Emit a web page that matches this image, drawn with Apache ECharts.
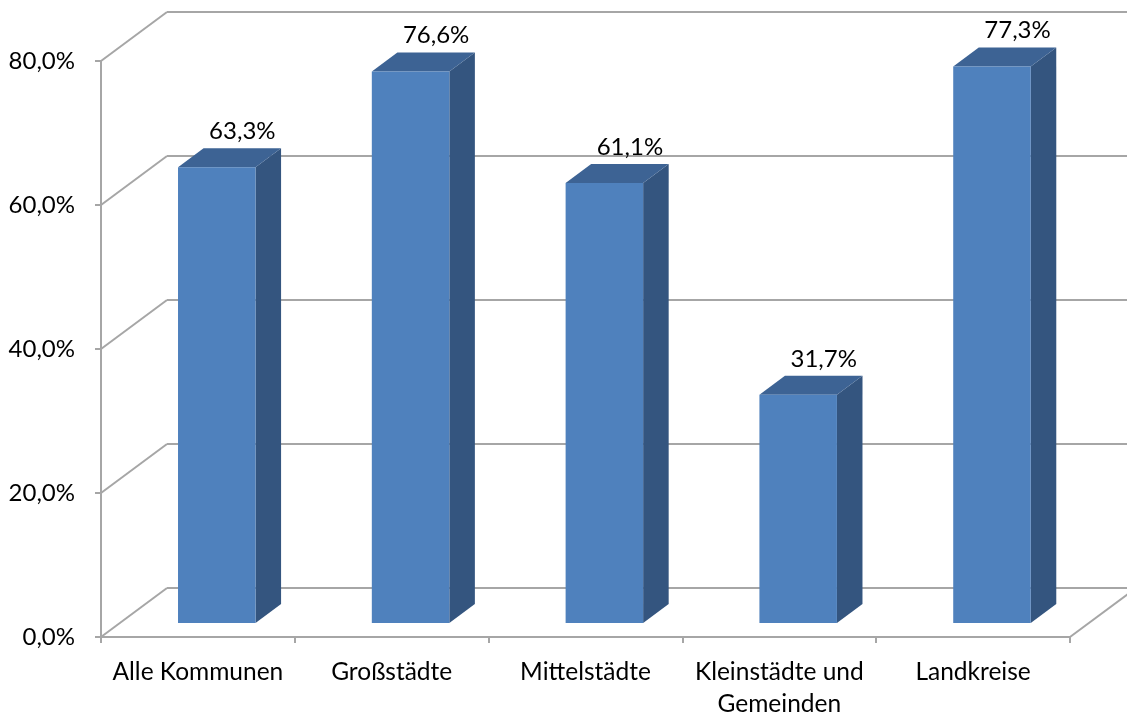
<!DOCTYPE html>
<html>
<head>
<meta charset="utf-8">
<script src="https://cdn.jsdelivr.net/npm/echarts@6/dist/echarts.min.js"></script>
<style>
  html, body { margin: 0; padding: 0; background: #fff; }
  #container { width: 1127px; height: 716px; }
</style>
</head>
<body>
<div id="container"></div>
<script>
// Daten
var categories = ['Alle Kommunen', 'Großstädte', 'Mittelstädte', 'Kleinstädte und\nGemeinden', 'Landkreise'];
var values = [63.3, 76.6, 61.1, 31.7, 77.3];
var yTicks = [0, 20, 40, 60, 80];

// 3D-Tiefe (Pixel) und Lage der Säulen in der Tiefe
var DX = 66, DY = 49;
var F1 = 0.286, F2 = 0.673;
var BAR_W = 0.4;

var FONT = 'Lato, "Open Sans", sans-serif';
var gridColor = '#a6a6a6';

function pct(v) {
    return v.toFixed(1).replace('.', ',') + '%';
}

var dom = document.getElementById('container');
var myChart = echarts.init(dom);

//Rahmen: Seitenwand, Rückwand, Boden
function renderFrame(params, api) {
    var cs = params.coordSys;
    var y = api.coord([0, api.value(1)])[1];
    var x0 = cs.x, x1 = cs.x + cs.width;
    var ls = { stroke: gridColor, lineWidth: 2 };
    var children = [
        { type: 'line', shape: { x1: x0, y1: y, x2: x0 + DX, y2: y - DY }, style: ls },
        { type: 'line', shape: { x1: x0 + DX, y1: y - DY, x2: x1 + DX, y2: y - DY }, style: ls }
    ];
    if (api.value(1) === 0) {
        children.push({ type: 'line', shape: { x1: x1, y1: y, x2: x1 + DX, y2: y - DY }, style: ls });
    }
    return { type: 'group', children: children };
}

//Säulen mit Vorder-, Seiten- und Deckfläche
function renderBar(params, api) {
    var i = api.value(0);
    var v = api.value(1);
    var top = api.coord([i, v]);
    var base = api.coord([i, 0]);
    var bw = api.size([1, 0])[0] * BAR_W;
    var xl = top[0] - bw / 2 + F1 * DX;
    var xr = xl + bw;
    var yt = top[1] - F1 * DY;
    var yb = base[1] - F1 * DY;
    var ox = (F2 - F1) * DX, oy = (F2 - F1) * DY;
    return {
        type: 'group',
        children: [
            {
                type: 'polygon',
                shape: { points: [[xr, yt], [xr + ox, yt - oy], [xr + ox, yb - oy], [xr, yb]] },
                style: { fill: '#34557f' }
            },
            {
                type: 'polygon',
                shape: { points: [[xl, yt], [xl + ox, yt - oy], [xr + ox, yt - oy], [xr, yt]] },
                style: { fill: '#3d6394' }
            },
            {
                type: 'rect',
                shape: { x: xl, y: yt, width: bw, height: yb - yt },
                style: { fill: '#4f81bd' }
            },
            {
                type: 'text',
                style: {
                    text: pct(v),
                    x: top[0] + F2 * DX,
                    y: top[1] - F2 * DY - 17,
                    align: 'center',
                    verticalAlign: 'middle',
                    fontSize: 24,
                    fontFamily: FONT,
                    fill: '#000'
                }
            }
        ]
    };
}

var option = {
    animation: false,
    grid: { left: 101, right: 57, top: 61, bottom: 79, outerBoundsMode: 'none', containLabel: false },
    xAxis: {
        type: 'category',
        data: categories,
        axisLine: { lineStyle: { color: gridColor, width: 2 } },
        axisTick: { show: true, length: 6, lineStyle: { color: gridColor, width: 2 } },
        axisLabel: { color: '#000', fontSize: 24.5, fontFamily: FONT, lineHeight: 32, margin: 19, interval: 0 }
    },
    yAxis: {
        type: 'value',
        min: 0,
        max: 80,
        interval: 20,
        axisLine: { show: true, lineStyle: { color: gridColor, width: 2 } },
        axisTick: { show: true, length: 6, lineStyle: { color: gridColor, width: 2 } },
        splitLine: { show: false },
        axisLabel: { color: '#000', fontSize: 24, fontFamily: FONT, margin: 26, formatter: pct }
    },
    series: [
        {
            type: 'custom',
            clip: false,
            z: 1,
            silent: true,
            renderItem: renderFrame,
            data: yTicks.map(function (t) { return [0, t]; })
        },
        {
            type: 'custom',
            clip: false,
            z: 3,
            renderItem: renderBar,
            data: values.map(function (v, i) { return [i, v]; })
        }
    ]
};

myChart.setOption(option);
</script>
</body>
</html>
